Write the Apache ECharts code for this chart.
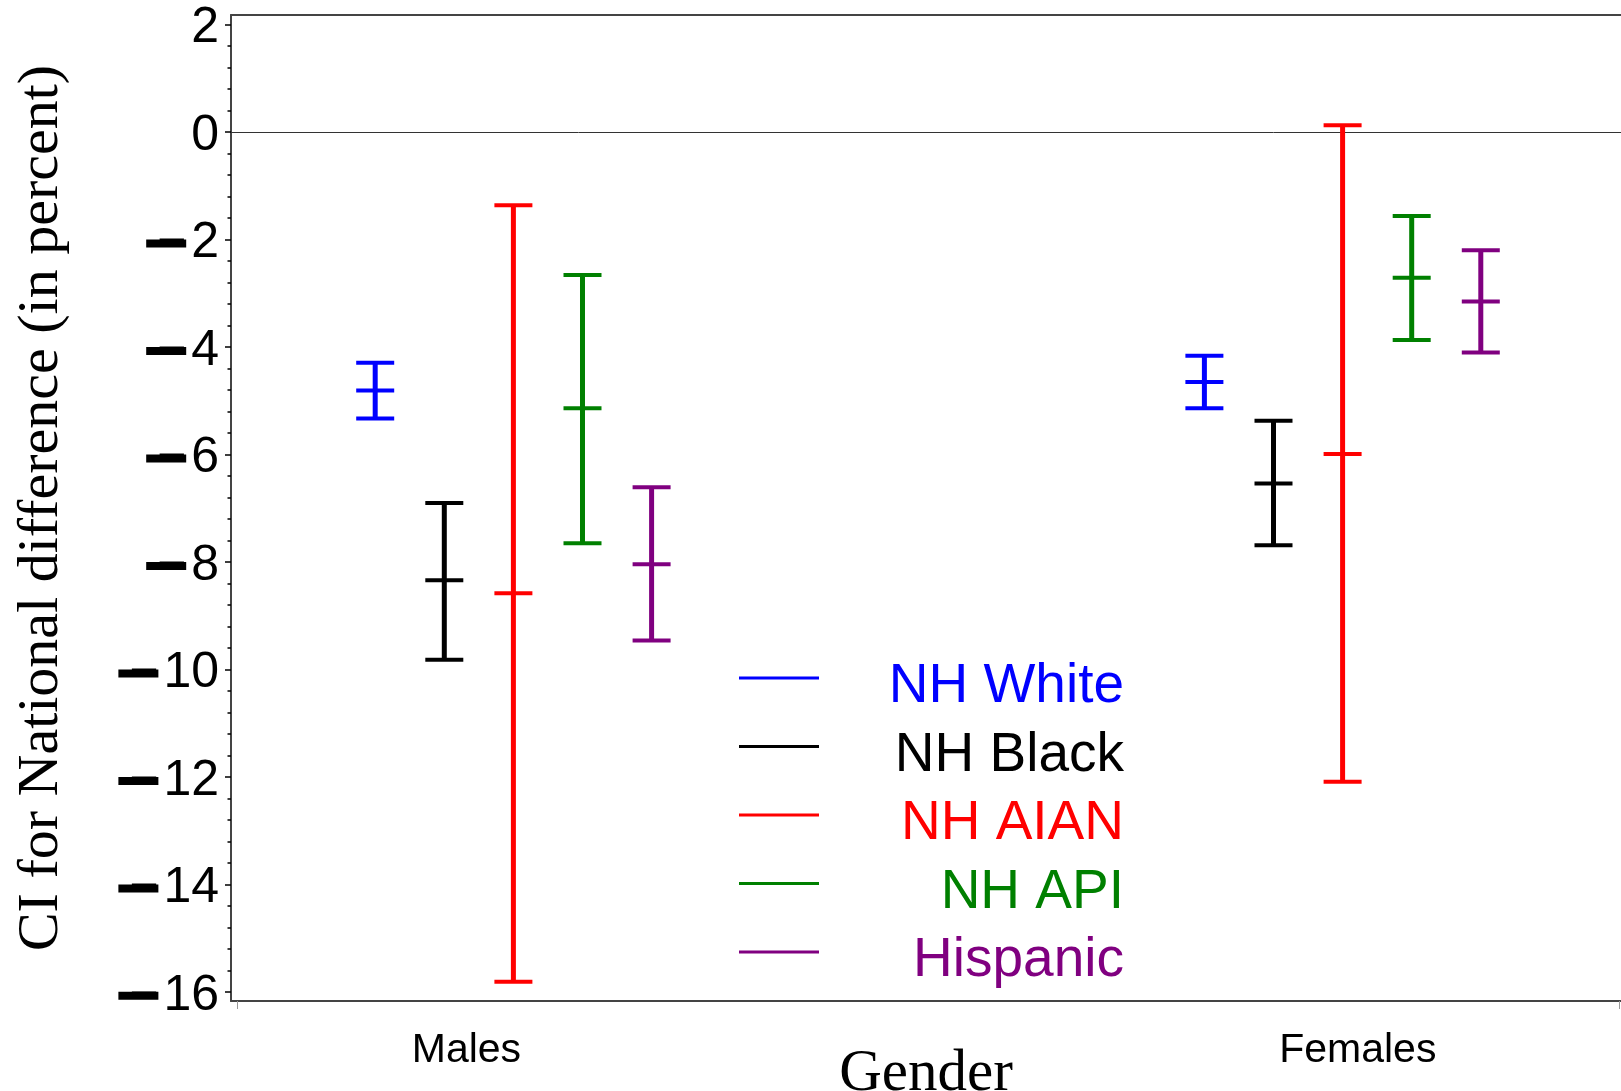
<!DOCTYPE html>
<html>
<head>
<meta charset="utf-8">
<title>CI for National difference by gender</title>
<script src="https://cdn.jsdelivr.net/npm/echarts@6/dist/echarts.min.js"></script>
<style>
  html, body { margin: 0; padding: 0; background: #fff; }
  #chart { width: 1621px; height: 1091px; }
</style>
</head>
<body>
<div id="chart"></div>
<script>
// x axis groups
const genders = ['Males', 'Females']
const genderX = [20, 80]
const genderLabelX = [16.6, 81.1]
const xEndTicks = [0, 100]

// races, drawn side by side inside each gender group
const races = ['NH White', 'NH Black', 'NH AIAN', 'NH API', 'Hispanic']
const raceOffset = [-10, -5, 0, 5, 10]
const raceColors = ['#0000ff', '#000000', '#ff0000', '#008000', '#800080']

// CI for national difference: [lower, estimate, upper] for Males, then Females
const nhWhite = [[-5.33, -4.81, -4.29], [-5.14, -4.65, -4.16]]
const nhBlack = [[-9.82, -8.34, -6.90], [-7.69, -6.54, -5.37]]
const nhAian = [[-15.81, -8.58, -1.36], [-12.09, -5.99, 0.13]]
const nhApi = [[-7.65, -5.14, -2.66], [-3.87, -2.71, -1.56]]
const hispanic = [[-9.46, -8.04, -6.61], [-4.10, -3.15, -2.20]]
const raceCI = [nhWhite, nhBlack, nhAian, nhApi, hispanic]

// y axis ticks
const yTicks = [-16, -14, -12, -10, -8, -6, -4, -2, 0, 2]
const yMinorTicks = []
for (let i = 0; i < yTicks.length - 1; i++) {
  for (let k = 1; k < 5; k++) {
    yMinorTicks.push(+(yTicks[i] + k * 0.4).toFixed(1))
  }
}

const sansFont = 'Liberation Sans'
const serifFont = 'Liberation Serif'

// one error bar: whisker plus caps at low, estimate and high
function renderItem(params, api) {
  const x = api.value(0)
  const lo = api.coord([x, api.value(1)])
  const mid = api.coord([x, api.value(2)])
  const hi = api.coord([x, api.value(3)])
  const half = 19
  const color = api.visual('color')
  const cap = (p) => ({
    type: 'line',
    shape: { x1: p[0] - half, y1: p[1], x2: p[0] + half, y2: p[1] },
    style: { stroke: color, lineWidth: 4 },
  })
  return {
    type: 'group',
    children: [
      {
        type: 'line',
        shape: { x1: lo[0], y1: lo[1], x2: hi[0], y2: hi[1] },
        style: { stroke: color, lineWidth: 5 },
      },
      cap(lo),
      cap(mid),
      cap(hi),
    ],
  }
}

const series = races.map((name, r) => {
  const item = {
    name: name,
    type: 'custom',
    renderItem: renderItem,
    itemStyle: { color: raceColors[r] },
    encode: { x: 0, y: [1, 2, 3] },
    data: genderX.map((gx, g) => [gx + raceOffset[r]].concat(raceCI[r][g])),
    z: 3,
  }
  if (r === 0) {
    // reference line at zero
    item.markLine = {
      silent: true,
      symbol: 'none',
      label: { show: false },
      lineStyle: { color: '#333', width: 1, type: 'solid' },
      data: [{ yAxis: 0 }],
      z: 1,
    }
  }
  return item
})

const myChart = echarts.init(document.getElementById('chart'), null, { renderer: 'canvas' })

const option = {
  animation: false,
  backgroundColor: '#fff',
  grid: { left: 231, right: 0, top: 15, bottom: 90, containLabel: false, outerBoundsMode: 'none' },
  legend: {
    orient: 'vertical',
    left: 739,
    top: 649,
    padding: 0,
    itemWidth: 80,
    itemHeight: 3,
    itemGap: 3,
    selectedMode: false,
    icon: 'rect',
    data: races.map((name, r) => ({ name: name, textStyle: { color: raceColors[r] } })),
    formatter: (name) => '{r|' + name + '}',
    textStyle: {
      fontFamily: sansFont,
      fontSize: 55,
      rich: {
        r: {
          width: 300,
          height: 40,
          lineHeight: 58,
          align: 'right',
          fontFamily: sansFont,
          fontSize: 55,
          padding: [18, 0, 0, 0],
        },
      },
    },
  },
  xAxis: [
    {
      type: 'value',
      position: 'bottom',
      min: -0.434,
      max: 100.145,
      name: 'Gender',
      nameLocation: 'middle',
      nameGap: 44,
      nameMoveOverlap: false,
      nameTextStyle: { fontFamily: serifFont, fontSize: 59, color: '#000' },
      axisLine: { show: true, onZero: false, lineStyle: { color: '#444', width: 2 } },
      axisTick: { show: true, customValues: xEndTicks, length: 8, lineStyle: { color: '#999', width: 1 } },
      axisLabel: {
        show: true,
        customValues: genderLabelX,
        margin: 29,
        fontFamily: sansFont,
        fontSize: 41,
        color: '#000',
        formatter: (v) => genders[genderLabelX.indexOf(v)] || '',
      },
      splitLine: { show: false },
    },
    {
      type: 'value',
      position: 'top',
      min: -0.434,
      max: 100.145,
      axisLine: { show: true, onZero: false, lineStyle: { color: '#444', width: 2 } },
      axisTick: { show: false },
      axisLabel: { show: false },
      splitLine: { show: false },
    },
  ],
  yAxis: [
    {
      type: 'value',
      min: -16.17,
      max: 2.18,
      name: 'CI for National difference (in percent)',
      nameLocation: 'middle',
      nameGap: 160,
      nameTextStyle: { fontFamily: serifFont, fontSize: 58, color: '#000' },
      axisLine: { show: true, onZero: false, lineStyle: { color: '#444', width: 2 } },
      axisTick: { show: true, customValues: yTicks, length: 6, lineStyle: { color: '#000', width: 1.5 } },
      axisLabel: {
        show: true,
        customValues: yTicks,
        margin: 12,
        padding: [8, 0, 0, 0],
        fontFamily: sansFont,
        fontSize: 50,
        color: '#000',
        formatter: (v) => (v < 0 ? '{m|\u2212}{d|' + Math.abs(v) + '}' : '{d|' + v + '}'),
        rich: {
          m: { width: 40, height: 8, backgroundColor: '#000', fontFamily: sansFont, fontSize: 50, color: '#000' },
          d: { fontFamily: sansFont, fontSize: 50, color: '#000', padding: [0, 0, 0, 5] },
        },
      },
      splitLine: { show: false },
    },
    {
      type: 'value',
      min: -16.17,
      max: 2.18,
      position: 'left',
      axisLine: { show: false, onZero: false },
      axisTick: { show: true, customValues: yMinorTicks, length: 3.5, lineStyle: { color: '#000', width: 1.5 } },
      axisLabel: { show: false },
      splitLine: { show: false },
    },
  ],
  series: series,
}

myChart.setOption(option)
</script>
</body>
</html>
